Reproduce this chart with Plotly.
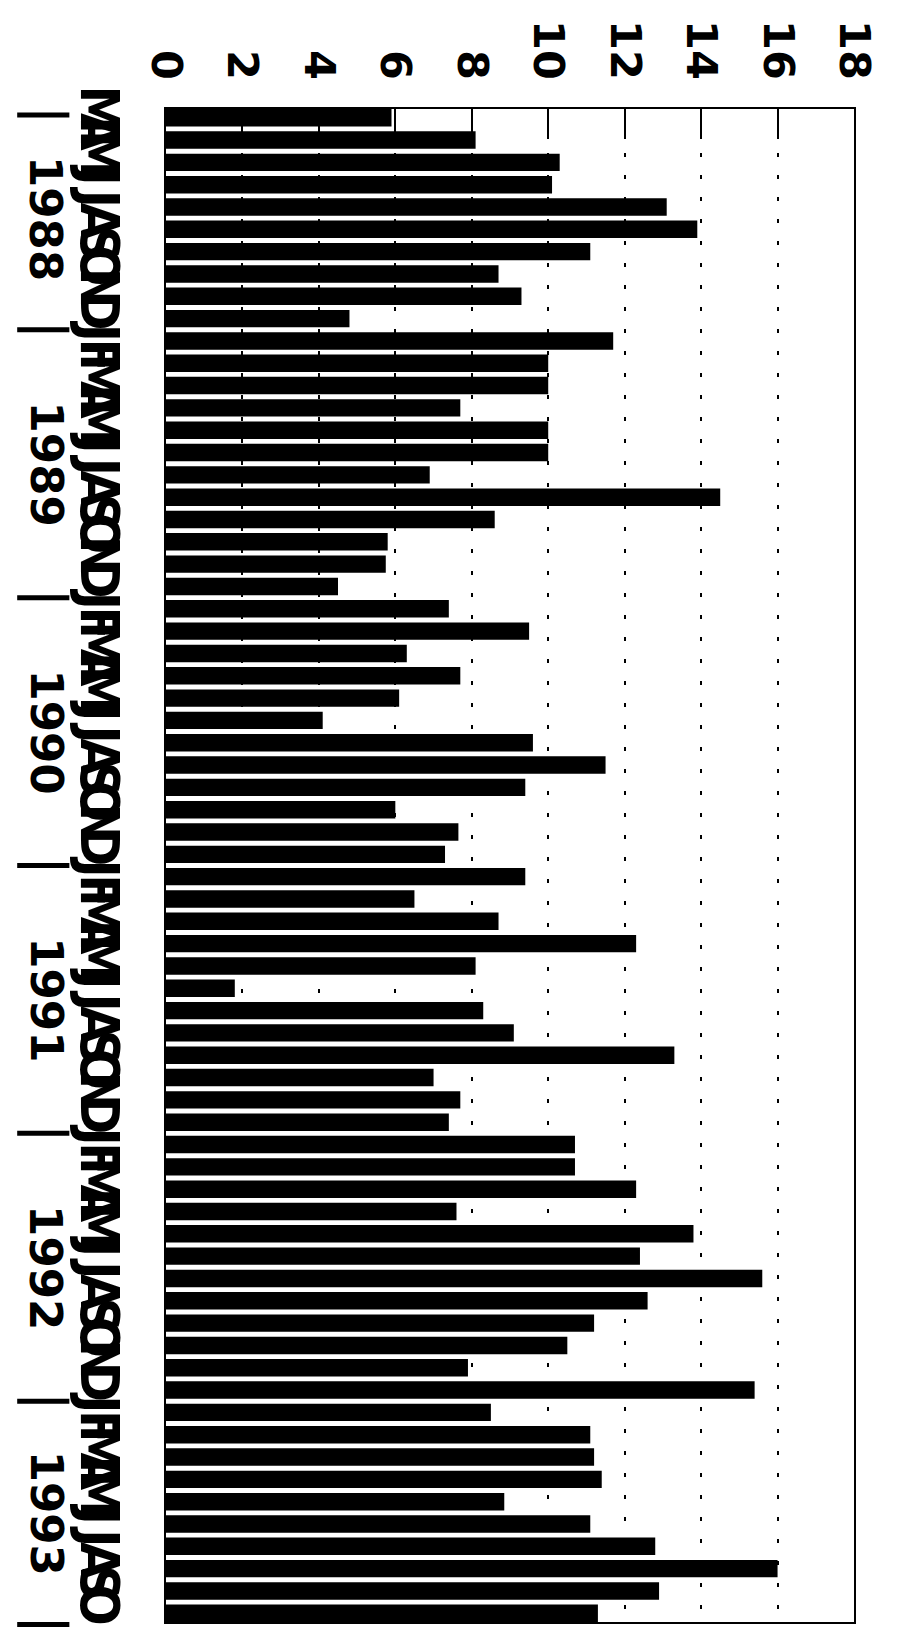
import plotly.graph_objects as go

# ---- data ----
years = ["1988", "1989", "1990", "1991", "1992", "1993"]
months_1988 = ["M", "A", "M", "J", "J", "A", "S", "O", "N", "D"]
months_full = ["J", "F", "M", "A", "M", "J", "J", "A", "S", "O", "N", "D"]
months_1993 = ["J", "F", "M", "A", "M", "J", "J", "A", "S", "O"]

v1988 = [5.9, 8.1, 10.3, 10.1, 13.1, 13.9, 11.1, 8.7, 9.3, 4.8]
v1989 = [11.7, 10.0, 10.0, 7.7, 10.0, 10.0, 6.9, 14.5, 8.6, 5.8, 5.75, 4.5]
v1990 = [7.4, 9.5, 6.3, 7.7, 6.1, 4.1, 9.6, 11.5, 9.4, 6.0, 7.65, 7.3]
v1991 = [9.4, 6.5, 8.7, 12.3, 8.1, 1.8, 8.3, 9.1, 13.3, 7.0, 7.7, 7.4]
v1992 = [10.7, 10.7, 12.3, 7.6, 13.8, 12.4, 15.6, 12.6, 11.2, 10.5, 7.9, 15.4]
v1993 = [8.5, 11.1, 11.2, 11.4, 8.85, 11.1, 12.8, 16.0, 12.9, 11.3]

value_ticks = [0, 2, 4, 6, 8, 10, 12, 14, 16, 18]

# ---- assemble ----
month_groups = [months_1988, months_full, months_full, months_full, months_full, months_1993]
value_groups = [v1988, v1989, v1990, v1991, v1992, v1993]

labels, values, idx = [], [], []
year_centers, boundaries = [], [-0.5]
k = 0
for mg, vg in zip(month_groups, value_groups):
    start = k
    for m, v in zip(mg, vg):
        labels.append(m)
        values.append(v)
        idx.append(k)
        k += 1
    year_centers.append((start + k - 1) / 2)
    boundaries.append(k - 0.5)

n = len(values)
gap = 0.22
y_bottom, y_top = n - 0.5 - gap / 2, -0.5 + gap / 2

fig = go.Figure(go.Bar(
    x=values, y=idx, orientation="h",
    marker=dict(color="black", line=dict(width=0)),
    width=1 - gap,
))

# page has an 8px body margin; figure sized to fit the window
OFF = 8
W, H = 884, 1630
PL, PR, PT, PB = 166, 878, 92, 1623   # plot box in page pixels
L, T = PL - OFF, PT - OFF
R = W - (PR - OFF)
B = H - (PB - OFF)
plot_w = W - L - R

def px_to_paper(px):
    return (px - OFF - L) / plot_w

def y_to_paper(v):
    return (v - y_bottom) / (y_top - y_bottom)

annotations = []
for yc, yr in zip(year_centers, years):
    annotations.append(dict(
        x=px_to_paper(42), xref="paper", y=yc, yref="y",
        text=yr, showarrow=False, textangle=90,
        font=dict(family="DejaVu Sans", size=45, color="black", weight="bold"),
        xanchor="center", yanchor="middle",
    ))

shapes = []
for b in boundaries:
    yp = y_to_paper(b)
    yp = min(max(yp, -0.003), 0.996) if b in (boundaries[0], boundaries[-1]) else yp
    shapes.append(dict(
        type="line", xref="paper", yref="paper",
        x0=px_to_paper(12), x1=px_to_paper(66), y0=yp, y1=yp,
        line=dict(color="black", width=5),
    ))

fig.update_layout(
    width=W, height=H,
    margin=dict(l=L, r=R, t=T, b=B),
    paper_bgcolor="white", plot_bgcolor="white",
    showlegend=False,
    annotations=annotations,
    shapes=shapes,
    xaxis=dict(
        side="top", range=[0, 18],
        tickmode="array", tickvals=value_ticks,
        ticktext=[str(t) for t in value_ticks],
        tickangle=90,
        tickfont=dict(family="DejaVu Sans", size=43, color="black", weight="bold"),
        ticks="inside", ticklen=30, tickwidth=1.5, tickcolor="black",
        showline=True, linecolor="black", linewidth=2, mirror=True,
        showgrid=True, gridcolor="black", gridwidth=1.5, griddash="4px,18px",
        zeroline=False,
        ticklabelstandoff=12,
        ticklabeloverflow="allow",
    ),
    yaxis=dict(
        range=[y_bottom, y_top],
        tickmode="array", tickvals=idx, ticktext=labels,
        tickangle=90,
        tickfont=dict(family="Liberation Sans Narrow, DejaVu Sans Condensed, Liberation Sans",
                      size=54, color="black", weight="bold"),
        ticks="",
        showline=True, linecolor="black", linewidth=2, mirror=True,
        showgrid=False, zeroline=False,
        ticklabelstandoff=18,
    ),
)

fig.write_html("out.html")
